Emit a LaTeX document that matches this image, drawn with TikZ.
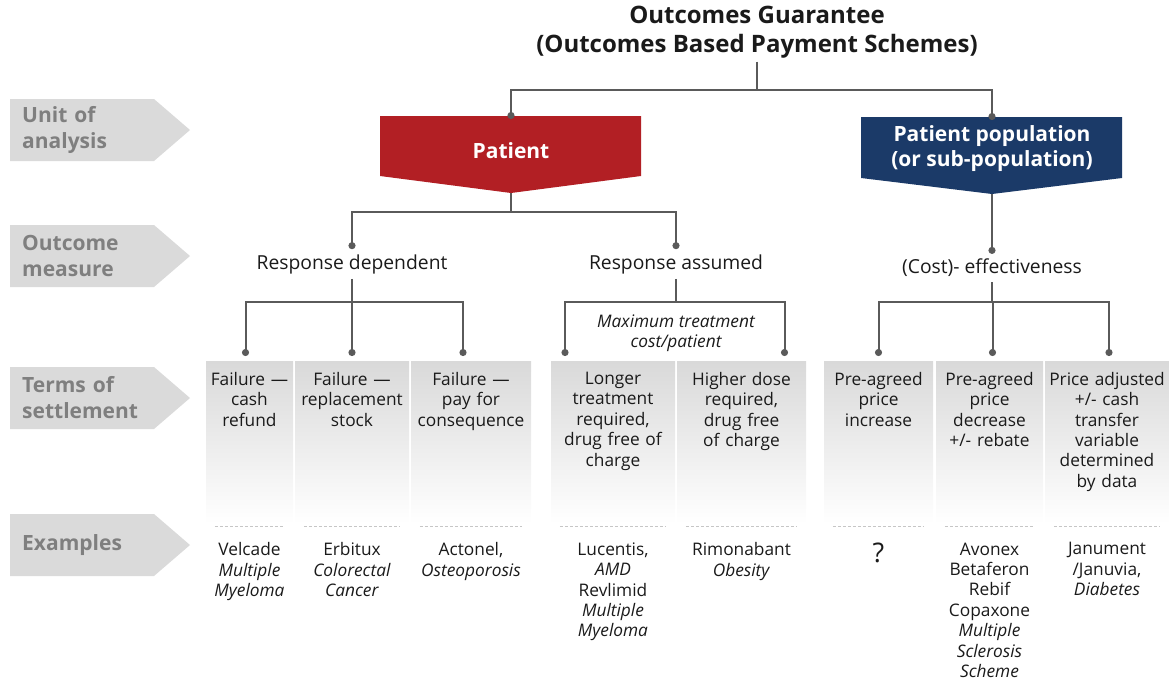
\documentclass[tikz,border=0pt]{standalone}
\usepackage{fontspec}
\setmainfont{Open Sans}
\usetikzlibrary{arrows.meta,positioning}
\definecolor{cRed}{HTML}{B21F24}
\definecolor{cNavy}{HTML}{1B3A68}
\definecolor{cLine}{HTML}{5A5A5A}
\definecolor{cTag}{HTML}{DADADA}
\definecolor{cTagText}{HTML}{7F7F7F}
\definecolor{cText}{HTML}{1A1A1A}
\definecolor{cShade}{HTML}{D9D9D9}

\begin{document}
\begin{tikzpicture}[x=1pt,y=-1pt,
    conn/.style={draw=cLine,line width=2pt},
    connDot/.style={conn,-{Circle[length=7pt]}},
    titleText/.style={text=cText,font=\fontsize{24}{29}\selectfont\bfseries,align=center},
    tagText/.style={text=cTagText,font=\fontsize{21}{26}\selectfont\bfseries,align=left,anchor=west,inner sep=0},
    boxText/.style={text=white,font=\fontsize{21}{25}\selectfont\bfseries,align=center},
    measureText/.style={text=cText,font=\fontsize{19.3}{23}\selectfont,inner sep=5pt},
    colBox/.style={anchor=north,minimum height=162pt,inner sep=0,top color=cShade,bottom color=white},
    colText/.style={text=cText,font=\fontsize{17.3}{20.4}\selectfont,align=center,inner sep=0},
    sepLine/.style={draw=gray!45,line width=0.8pt,dash pattern=on 3pt off 2pt}]
\useasboundingbox (0,0) rectangle (1169,681);

%title
\node[titleText] (title) at (757,32) {Outcomes Guarantee\\(Outcomes Based Payment Schemes)};

%row tags on the left
\foreach \cY/\tagTxt [count=\i] in
{130/{Unit of\\analysis},
    256/{Outcome\\measure},
    398/{Terms of\\settlement},
    545/{Examples}
}
{
    \fill[cTag] (10,\cY-31) -- (154,\cY-31) -- (190,\cY) -- (154,\cY+31) -- (10,\cY+31) -- cycle;
    \node[tagText,text width=150pt] (tag\i) at (22,\cY) {\tagTxt};
};

%unit of analysis
\fill[cRed] (380,116) -- (641,116) -- (641,176) -- (511,193) -- (380,176) -- cycle;
\fill[cNavy] (861,117) -- (1122,117) -- (1122,178) -- (992,194) -- (861,178) -- cycle;
\node[boxText] (patient) at (511,151) {Patient};
\node[boxText] (pop) at (992,149) {Patient population\\(or sub-population)};
\coordinate (cPatTop) at (511,119);
\coordinate (cPatTip) at (511,193);
\coordinate (cPopTop) at (992,120);
\coordinate (cPopTip) at (992,194);
\coordinate (cTopJn) at (757,90);
\draw[conn] (title) -- (cTopJn);
\draw[connDot] (cTopJn) -| (cPatTop);
\draw[connDot] (cTopJn) -| (cPopTop);

%outcome measure
\node[measureText] (respDep) at (352,264) {Response dependent};
\node[measureText] (respAss) at (676,264) {Response assumed};
\node[measureText] (costEff) at (992,268) {(Cost)- effectiveness};
\node[colText,font=\fontsize{17.3}{20.4}\selectfont\itshape] (maxCost) at (676,333) {Maximum treatment\\cost/patient};
\coordinate (cPatJn) at (511,212);
\draw[conn] (cPatTip) -- (cPatJn);
\draw[connDot] (cPatJn) -| (respDep);
\draw[connDot] (cPatJn) -| (respAss);
\draw[connDot] (cPopTip) -- (costEff);

%terms of settlement and examples
\foreach \cName/\cX/\cW/\cTerms/\cEx in
{colA/249.5/87/{Failure —\\cash\\refund}/{Velcade\\\textit{Multiple}\\\textit{Myeloma}},
    colB/352/114/{Failure —\\replacement\\stock}/{Erbitux\\\textit{Colorectal}\\\textit{Cancer}},
    colC/471/120/{Failure —\\pay for\\consequence}/{Actonel,\\\textit{Osteoporosis}},
    colD/613/124/{Longer\\treatment\\required,\\drug free of\\charge}/{Lucentis,\\\textit{AMD}\\Revlimid\\\textit{Multiple}\\\textit{Myeloma}},
    colE/741.5/129/{Higher dose\\required,\\drug free\\of charge}/{Rimonabant\\\textit{Obesity}},
    colF/878.5/109/{Pre-agreed\\price\\increase}/{{\fontsize{27}{27}\selectfont ?}},
    colG/989.5/107/{Pre-agreed\\price\\decrease\\+/- rebate}/{Avonex\\Betaferon\\Rebif\\Copaxone\\\textit{Multiple}\\\textit{Sclerosis}\\\textit{Scheme}},
    colH/1107/124/{Price adjusted\\+/- cash\\transfer\\variable\\determined\\by data}/{Janument\\/Januvia,\\\textit{Diabetes}}
}
{
    \node[colBox,minimum width=\cW pt] (\cName) at (\cX,361) {};
    \node[colText,text width=\cW pt,below=11pt of \cName.north] (\cName Terms) {\cTerms};
    \draw[sepLine] ([xshift=9pt,yshift=-3pt]\cName.south west) -- ([xshift=-9pt,yshift=-3pt]\cName.south east);
    \node[colText,text width=\cW pt,below=19pt of \cName.south] (\cName Ex) {\cEx};
};

%lower connectors
\coordinate (cDepJn) at (352,302);
\coordinate (cAssJn) at (676,302);
\coordinate (cEffJn) at (992,302);
\draw[conn] (respDep) -- (cDepJn);
\draw[conn] (respAss) -- (cAssJn);
\draw[conn] (costEff) -- (cEffJn);
\draw[connDot,shorten >=5pt] (cDepJn) -| ([xshift=-4pt]colA.north);
\draw[connDot,shorten >=5pt] (cDepJn) -| (colB.north);
\draw[connDot,shorten >=5pt] (cDepJn) -| ([xshift=-8pt]colC.north);
\draw[connDot,shorten >=5pt] (cAssJn) -| ([xshift=-48pt]colD.north);
\draw[connDot,shorten >=5pt] (cAssJn) -| ([xshift=43pt]colE.north);
\draw[connDot,shorten >=5pt] (cEffJn) -| (colF.north);
\draw[connDot,shorten >=5pt] (cEffJn) -| ([xshift=3pt]colG.north);
\draw[connDot,shorten >=5pt] (cEffJn) -| ([xshift=2pt]colH.north);
\end{tikzpicture}
\end{document}
